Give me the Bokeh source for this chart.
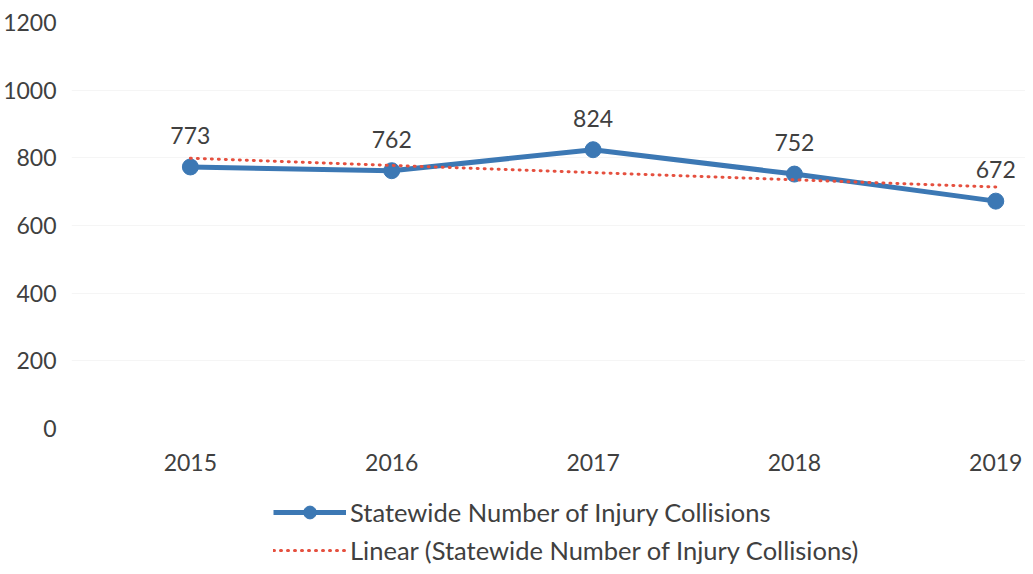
from bokeh.plotting import figure
from bokeh.layouts import column
from bokeh.models import (ColumnDataSource, Range1d, FixedTicker, Legend, LegendItem,
                          LabelSet)
from bokeh.core.properties import value
from bokeh.embed import file_html
from bokeh.resources import INLINE

# ---- data ----
years = [2015, 2016, 2017, 2018, 2019]
collisions = [773, 762, 824, 752, 672]
labels = ["773", "762", "824", "752", "672"]
trend_years = [2015, 2019]
trend_values = [799, 714]
y_ticks = [0, 200, 400, 600, 800, 1000, 1200]
series_name = "Statewide Number of Injury Collisions"
trend_name = "Linear (Statewide Number of Injury Collisions)"

FONT = "Lato"
TXT = "#404040"
BLUE = "#3C78B4"
RED = "#E5503F"

src = ColumnDataSource(dict(x=years, y=collisions, t=labels))

# frame: left px 70, right px 1033 ; 2015 -> 190, 2019 -> 1003
px_per_year = (1003 - 190) / 4.0
x_start = 2015 - (190 - 70) / px_per_year
x_end = 2019 + (1033 - 1003) / px_per_year

p = figure(width=1025, height=484, output_backend="svg", toolbar_location=None,
           x_range=Range1d(x_start, x_end), y_range=Range1d(0, 1200),
           min_border_left=62, min_border_right=0, min_border_top=22,
           min_border_bottom=56)
p.outline_line_color = None
p.background_fill_color = "white"

for ax in (p.xaxis[0], p.yaxis[0]):
    ax.axis_line_color = None
    ax.major_tick_line_color = None
    ax.minor_tick_line_color = None
    ax.major_label_text_font = FONT
    ax.major_label_text_font_size = "23px"
    ax.major_label_text_color = TXT
p.xaxis.ticker = FixedTicker(ticks=years)
p.xaxis.major_label_overrides = {y: str(y) for y in years}
p.xaxis.major_label_standoff = 19
p.yaxis.ticker = FixedTicker(ticks=y_ticks)
p.yaxis.major_label_standoff = 9

p.xgrid.grid_line_color = None
p.ygrid.grid_line_color = "#f5f5f5"

line_kw = dict(line_color=BLUE, line_width=5, line_join="round")
mark_kw = dict(size=16, fill_color=BLUE, line_color=BLUE)
trend_kw = dict(line_color=RED, line_width=3, line_dash="1 6", line_cap="round")

p.line("x", "y", source=src, **line_kw)
p.scatter("x", "y", source=src, **mark_kw)
p.line(trend_years, trend_values, **trend_kw)

lbl = LabelSet(x="x", y="y", text="t", source=src, y_offset=23,
               text_align="center", text_baseline="alphabetic",
               text_font=value(FONT), text_font_size="23px", text_color=TXT)
p.add_layout(lbl)

# ---- legend strip below the chart ----
lf = figure(width=1025, height=82, output_backend="svg", toolbar_location=None,
            x_range=Range1d(0, 1), y_range=Range1d(0, 1),
            min_border_left=0, min_border_right=0, min_border_top=0,
            min_border_bottom=0)
lf.axis.visible = False
lf.grid.visible = False
lf.outline_line_color = None
# same series, outside this strip's view: only their legend glyphs show
l_ln = lf.line("x", "y", source=src, **line_kw)
l_mk = lf.scatter("x", "y", source=src, **mark_kw)
l_tr = lf.line(trend_years, trend_values, **trend_kw)

legend = Legend(items=[LegendItem(label=series_name, renderers=[l_ln, l_mk]),
                       LegendItem(label=trend_name, renderers=[l_tr])],
                orientation="vertical", location=(202, 0),
                glyph_width=73, glyph_height=32, label_height=32,
                label_standoff=4, spacing=6, padding=0, margin=0,
                label_text_font=FONT, label_text_font_size="25.5px",
                label_text_color=TXT, border_line_color=None,
                background_fill_alpha=0)
lf.add_layout(legend, "center")

open("out.html", "w").write(file_html(column(p, lf), INLINE))
